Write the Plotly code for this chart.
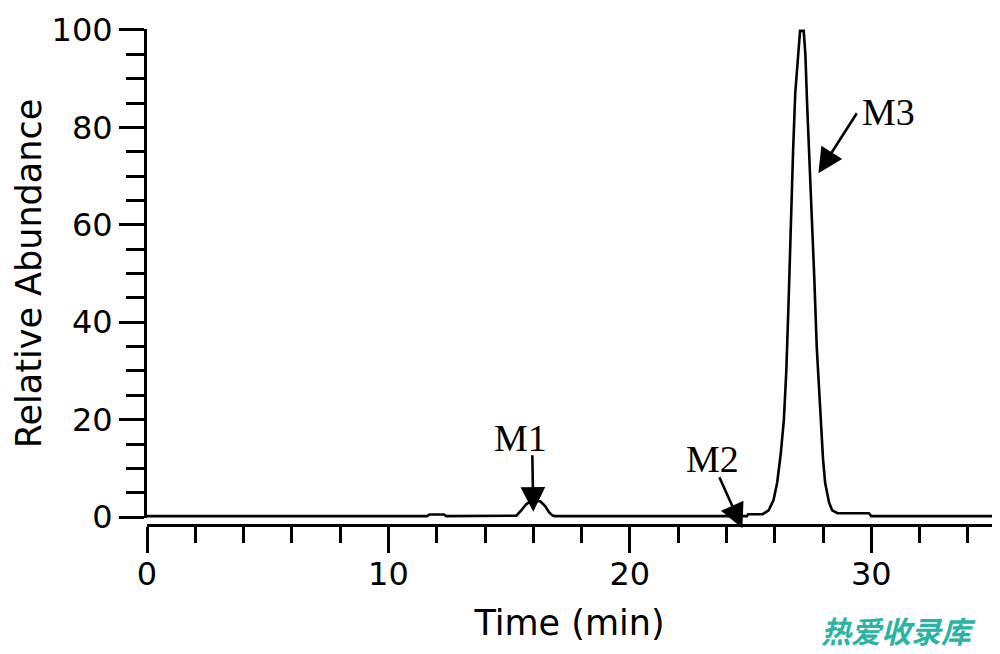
import plotly.graph_objects as go

# ---- data ----
time_min = [0, 11.6, 11.7, 12.3, 12.4, 15.2, 15.3, 15.5, 15.7, 15.9, 16.1, 16.3, 16.5,
            16.65, 16.8, 16.9, 24.85, 24.9, 25.5, 25.75, 25.95, 26.1, 26.25, 26.38,
            26.48, 26.58, 26.66, 26.76, 26.85, 26.97, 27.05, 27.2, 27.27, 27.34, 27.42,
            27.52, 27.64, 27.74, 27.88, 28.0, 28.09, 28.25, 28.38, 28.6, 29.9, 30.0, 35]
abundance = [0.2, 0.2, 0.55, 0.55, 0.2, 0.2, 0.3, 1.4, 2.6, 3.3, 3.4, 3.2, 2.2,
             1.0, 0.3, 0.2, 0.2, 0.6, 0.6, 1.4, 3.5, 7, 13, 20,
             30, 45, 60, 75, 87, 95, 99.8, 99.8, 95, 85, 76,
             63, 49, 35, 21, 12, 7, 3, 1.4, 0.8, 0.8, 0.2, 0.2]

peak_names = ["M1", "M2", "M3"]
label_t = [15.47, 23.43, 30.72]
label_y = [16.2, 12.0, 83.2]
arrow_tail_t = [15.96, 23.68, 29.44]
arrow_tail_y = [13.0, 8.5, 83.2]
arrow_tip_t = [16.0, 24.66, 27.81]
arrow_tip_y = [1.08, -2.3, 70.6]

x_major_ticks = [0, 10, 20, 30]
y_major_ticks = [0, 20, 40, 60, 80, 100]

fig = go.Figure()
fig.add_trace(go.Scatter(x=time_min, y=abundance, mode="lines",
                         line=dict(color="black", width=2.6), showlegend=False,
                         hoverinfo="skip"))

annotations = []
for name, lt, ly, at, ay, tt, ty in zip(peak_names, label_t, label_y,
                                        arrow_tail_t, arrow_tail_y,
                                        arrow_tip_t, arrow_tip_y):
    annotations.append(dict(x=tt, y=ty, ax=at, ay=ay, xref="x", yref="y",
                            axref="x", ayref="y", text="", showarrow=True,
                            arrowhead=2, arrowsize=1.9, arrowwidth=2.6,
                            arrowcolor="black", standoff=0, startstandoff=0))
    annotations.append(dict(x=lt, y=ly, xref="x", yref="y", text=name,
                            showarrow=False, xanchor="center", yanchor="middle",
                            font=dict(family="Liberation Serif", size=38,
                                      color="black")))

annotations.append(dict(x=0.889, y=-0.21, xref="paper", yref="paper",
                        text="<b>热爱收录库</b>", showarrow=False,
                        xanchor="center", yanchor="middle",
                        font=dict(family="Noto Sans CJK SC", size=30,
                                  color="#2bb3a3", style="italic")))

tickfont = dict(family="DejaVu Sans", size=32, color="black")
titlefont = dict(family="DejaVu Sans", size=35, color="black")

fig.update_layout(
    width=1000, height=654,
    margin=dict(l=147, r=8, t=20, b=129),
    paper_bgcolor="white", plot_bgcolor="white",
    annotations=annotations,
    xaxis=dict(range=[0, 35], domain=[0, 1], anchor="free", position=0,
               tickvals=x_major_ticks, ticks="outside", ticklen=26, tickwidth=2.6,
               tickcolor="black", showline=True, linecolor="black", linewidth=3,
               showgrid=False, zeroline=False, tickfont=tickfont,
               ticklabelstandoff=-6,
               minor=dict(dtick=2, ticks="outside", ticklen=16, tickwidth=2.6,
                          tickcolor="black", showgrid=False),
               title=dict(text="Time (min)", font=titlefont, standoff=18)),
    yaxis=dict(range=[-0.2, 100.2], domain=[0.01386, 0.99406], anchor="x",
               tickvals=y_major_ticks, ticks="outside", ticklen=25, tickwidth=2.6,
               tickcolor="black", showline=True, linecolor="black", linewidth=3,
               showgrid=False, zeroline=False, tickfont=tickfont,
               minor=dict(dtick=5, ticks="outside", ticklen=18, tickwidth=2.6,
                          tickcolor="black", showgrid=False),
               title=dict(text="Relative Abundance", font=titlefont, standoff=0)),
)

fig.write_html("out.html")
